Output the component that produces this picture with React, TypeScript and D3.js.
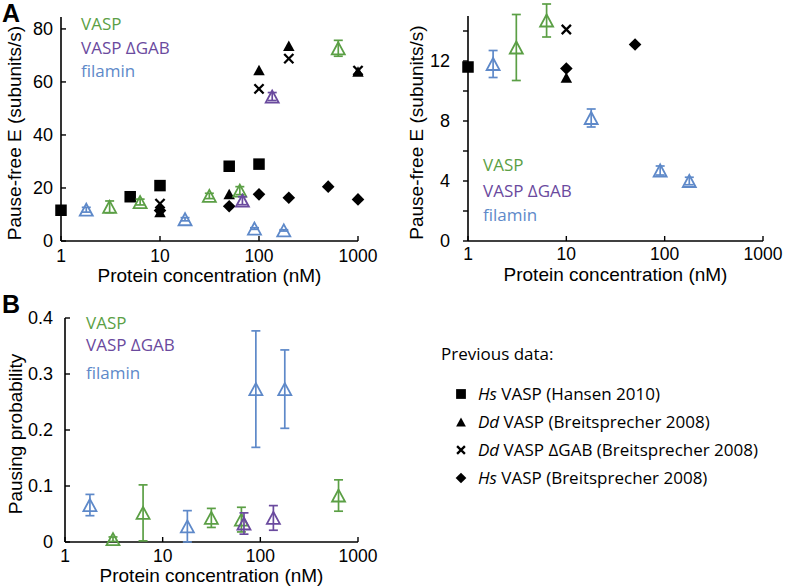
import React from "react";
import * as d3 from "d3";

const GREEN = "#5b9f45";
const PURPLE = "#6a4a9e";
const BLUE = "#5e89c9";
const BLACK = "#000000";

// ---------- Panel A: pause-free elongation rate (subunits/s) ----------
// Previous data (black symbols)
const hansenConc = [1, 5, 10, 50, 100];
const hansenRate = [11.6, 16.7, 20.9, 28.2, 29.0];
const ddConc = [10, 50, 100, 200, 1000];
const ddRate = [10.9, 17.7, 64.5, 73.7, 63.9];
const ddGabConc = [10, 100, 200, 1000];
const ddGabRate = [14.1, 57.4, 68.8, 64.3];
const hsBConc = [10, 50, 100, 200, 500, 1000];
const hsBRate = [11.5, 13.1, 17.6, 16.3, 20.5, 15.7];

// This study (open triangles with error bars)
const vaspConc = [3.1, 6.3, 31.5, 64, 632];
const vaspRate = [12.9, 14.7, 17.0, 19.0, 72.7];
const vaspRateErr = [2.2, 1.1, 1.0, 1.5, 3.0];
const gabConc = [68, 136];
const gabRate = [15.2, 54.5];
const gabRateErr = [1.5, 1.5];
const filConc = [1.8, 17.9, 90, 178];
const filRate = [11.8, 8.2, 4.7, 4.0];
const filRateErr = [0.9, 0.6, 0.3, 0.25];

// ---------- Panel B: pausing probability ----------
const vaspPause = [0.005, 0.052, 0.043, 0.040, 0.083];
const vaspPauseErr = [0.004, 0.05, 0.017, 0.022, 0.028];
const gabPause = [0.033, 0.043];
const gabPauseErr = [0.019, 0.022];
const filPause = [0.066, 0.028, 0.273, 0.273];
const filPauseErr = [0.019, 0.028, 0.104, 0.07];

const xTicks = [1, 10, 100, 1000];
const yTicksA = [0, 20, 40, 60, 80];
const yTicksAz = [0, 4, 8, 12];
const yMinorAz = [2, 6, 10, 14];
const yTicksB = [0, 0.1, 0.2, 0.3, 0.4];

const seriesNames = ["VASP", "VASP \u0394GAB", "filamin"];
const seriesColors = [GREEN, PURPLE, BLUE];

const legendItems = [
  { shape: "square", it: "Hs", rest: " VASP (Hansen 2010)" },
  { shape: "triangle", it: "Dd", rest: " VASP (Breitsprecher 2008)" },
  { shape: "x", it: "Dd", rest: " VASP \u0394GAB (Breitsprecher 2008)" },
  { shape: "diamond", it: "Hs", rest: " VASP (Breitsprecher 2008)" },
];

const AXFONT = "'Liberation Sans', Arial, Helvetica, sans-serif";
const LEGFONT = "'Open Sans', 'Noto Sans', sans-serif";

type Pt = { c: number; v: number; e?: number };
const zip = (c: number[], v: number[], e?: number[]): Pt[] =>
  c.map((ci, i) => ({ c: ci, v: v[i], e: e ? e[i] : undefined }));

function Marker({ shape, x, y, s = 1 }: { shape: string; x: number; y: number; s?: number }) {
  if (shape === "square") {
    const w = 11.5 * s;
    return <rect x={x - w / 2} y={y - w / 2} width={w} height={w} fill={BLACK} />;
  }
  if (shape === "triangle") {
    const w = 11.5 * s, h = 10.5 * s;
    return <path d={`M${x},${y - h / 2}L${x - w / 2},${y + h / 2}L${x + w / 2},${y + h / 2}Z`} fill={BLACK} />;
  }
  if (shape === "x") {
    const r = 4.6 * s;
    return (
      <path d={`M${x - r},${y - r}L${x + r},${y + r}M${x - r},${y + r}L${x + r},${y - r}`} stroke={BLACK} strokeWidth={2.3} />
    );
  }
  const r = 6.3 * s;
  return <path d={`M${x},${y - r}L${x + r},${y}L${x},${y + r}L${x - r},${y}Z`} fill={BLACK} />;
}

function OpenTri({ x, y, color }: { x: number; y: number; color: string }) {
  const w = 13, h = 12;
  return (
    <path
      d={`M${x},${y - h / 2}L${x - w / 2},${y + h / 2}L${x + w / 2},${y + h / 2}Z`}
      fill="none"
      stroke={color}
      strokeWidth={1.8}
      strokeLinejoin="miter"
    />
  );
}

function ErrBar({ x, y1, y2, color }: { x: number; y1: number; y2: number; color: string }) {
  const cw = 4.5;
  return (
    <g stroke={color} strokeWidth={1.7}>
      <line x1={x} x2={x} y1={y1} y2={y2} />
      <line x1={x - cw} x2={x + cw} y1={y1} y2={y1} />
      <line x1={x - cw} x2={x + cw} y1={y2} y2={y2} />
    </g>
  );
}

type PanelProps = {
  x: d3.ScaleLogarithmic<number, number>;
  y: d3.ScaleLinear<number, number>;
  yTicks: number[];
  yMinor?: number[];
  yFmt: (v: number) => string;
  yTickDir: number; // 1 inward, -1 outward
  yLabelGap: number;
  xLabelDy: number;
  yTitle: string;
  yTitleX: number;
  xTitleY: number;
  black: { shape: string; pts: Pt[] }[];
  ours: { color: string; pts: Pt[] }[];
  maxV: number;
  legendX: number;
  legendYs: number[];
};

function Panel(p: PanelProps) {
  const [x0, x1] = p.x.range();
  const [y0, y1] = p.y.range();
  const tl = 5;
  const inRange = (pt: Pt) => pt.v <= p.maxV;
  return (
    <g>
      {/* axes */}
      <line x1={x0} x2={x0} y1={y0} y2={y1} stroke={BLACK} strokeWidth={1.6} />
      <line x1={x0} x2={x1} y1={y0} y2={y0} stroke={BLACK} strokeWidth={1.6} />
      {p.yTicks.map((t) => (
        <g key={"yt" + t}>
          <line x1={x0} x2={x0 + p.yTickDir * tl} y1={p.y(t)} y2={p.y(t)} stroke={BLACK} strokeWidth={1.4} />
          <text
            x={x0 - p.yLabelGap}
            y={p.y(t)}
            dy="0.36em"
            textAnchor="end"
            fontFamily={AXFONT}
            fontSize={18}
          >
            {p.yFmt(t)}
          </text>
        </g>
      ))}
      {(p.yMinor || []).map((t) => (
        <line key={"ym" + t} x1={x0} x2={x0 + p.yTickDir * tl} y1={p.y(t)} y2={p.y(t)} stroke={BLACK} strokeWidth={1.4} />
      ))}
      {xTicks.map((t) => (
        <g key={"xt" + t}>
          <line x1={p.x(t)} x2={p.x(t)} y1={y0} y2={y0 - tl} stroke={BLACK} strokeWidth={1.4} />
          <text x={p.x(t)} y={y0 + p.xLabelDy} textAnchor="middle" fontFamily={AXFONT} fontSize={17.5}>
            {t}
          </text>
        </g>
      ))}
      <text
        x={(x0 + x1) / 2}
        y={p.xTitleY}
        textAnchor="middle"
        fontFamily={AXFONT}
        fontSize={19}
      >
        Protein concentration (nM)
      </text>
      <text
        transform={`translate(${p.yTitleX},${(y0 + y1) / 2 + 4}) rotate(-90)`}
        textAnchor="middle"
        fontFamily={AXFONT}
        fontSize={19}
      >
        {p.yTitle}
      </text>

      {/* series legend */}
      {seriesNames.map((n, i) => (
        <text key={n} x={p.legendX} y={p.legendYs[i]} fill={seriesColors[i]} fontFamily={LEGFONT} fontSize={17}>
          {n}
        </text>
      ))}

      {/* previous data */}
      {p.black.map((s) =>
        s.pts.filter(inRange).map((pt, i) => (
          <Marker key={s.shape + i} shape={s.shape} x={p.x(pt.c)} y={p.y(pt.v)} />
        ))
      )}

      {/* this study */}
      {p.ours.map((s, si) =>
        s.pts.filter(inRange).map((pt, i) => (
          <g key={si + "-" + i}>
            <ErrBar x={p.x(pt.c)} y1={p.y(pt.v - (pt.e || 0))} y2={p.y(pt.v + (pt.e || 0))} color={s.color} />
            <OpenTri x={p.x(pt.c)} y={p.y(pt.v)} color={s.color} />
          </g>
        ))
      )}
    </g>
  );
}

export default function App() {
  const xA = d3.scaleLog().domain([1, 1000]).range([61, 358]);
  const yA = d3.scaleLinear().domain([0, 84.5]).range([241, 17]);
  const xAz = d3.scaleLog().domain([1, 1000]).range([468, 763]);
  const yAz = d3.scaleLinear().domain([0, 15]).range([241, 16]);
  const xB = d3.scaleLog().domain([1, 1000]).range([65, 358]);
  const yB = d3.scaleLinear().domain([0, 0.4]).range([542, 318]);

  const blackA = [
    { shape: "square", pts: zip(hansenConc, hansenRate) },
    { shape: "triangle", pts: zip(ddConc, ddRate) },
    { shape: "x", pts: zip(ddGabConc, ddGabRate) },
    { shape: "diamond", pts: zip(hsBConc, hsBRate) },
  ];
  const oursA = [
    { color: GREEN, pts: zip(vaspConc, vaspRate, vaspRateErr) },
    { color: PURPLE, pts: zip(gabConc, gabRate, gabRateErr) },
    { color: BLUE, pts: zip(filConc, filRate, filRateErr) },
  ];
  const oursB = [
    { color: GREEN, pts: zip(vaspConc, vaspPause, vaspPauseErr) },
    { color: PURPLE, pts: zip(gabConc, gabPause, gabPauseErr) },
    { color: BLUE, pts: zip(filConc, filPause, filPauseErr) },
  ];

  return (
    <svg
      width={785}
      height={587}
      style={{ position: "absolute", left: 0, top: 0, background: "#fff" }}
    >
      <rect width={785} height={587} fill="#fff" />
      <text x={2} y={22} fontFamily={AXFONT} fontWeight="bold" fontSize={25}>A</text>
      <text x={2} y={313} fontFamily={AXFONT} fontWeight="bold" fontSize={25}>B</text>

      <Panel
        x={xA}
        y={yA}
        yTicks={yTicksA}
        yFmt={(v) => String(v)}
        yTickDir={1}
        yLabelGap={8}
        xLabelDy={21}
        yTitle="Pause-free E (subunits/s)"
        yTitleX={21}
        xTitleY={282}
        black={blackA}
        ours={oursA}
        maxV={1e9}
        legendX={81}
        legendYs={[30, 54, 77]}
      />
      <Panel
        x={xAz}
        y={yAz}
        yTicks={yTicksAz}
        yMinor={yMinorAz}
        yFmt={(v) => String(v)}
        yTickDir={-1}
        yLabelGap={18}
        xLabelDy={19}
        yTitle="Pause-free E (subunits/s)"
        yTitleX={423}
        xTitleY={281}
        black={blackA}
        ours={oursA}
        maxV={15}
        legendX={483}
        legendYs={[171, 197, 221]}
      />
      <Panel
        x={xB}
        y={yB}
        yTicks={yTicksB}
        yFmt={(v) => (v === 0 ? "0" : d3.format(".1f")(v))}
        yTickDir={1}
        yLabelGap={12}
        xLabelDy={20}
        yTitle="Pausing probability"
        yTitleX={22}
        xTitleY={582}
        black={[]}
        ours={oursB}
        maxV={1e9}
        legendX={86}
        legendYs={[329, 351, 379]}
      />

      {/* previous data legend */}
      <text x={441} y={360} fontFamily={LEGFONT} fontSize={17}>Previous data:</text>
      {legendItems.map((it, i) => {
        const cy = 394 + i * 28;
        return (
          <g key={i}>
            <Marker shape={it.shape} x={461} y={cy} s={0.85} />
            <text x={478} y={cy + 6} fontFamily={LEGFONT} fontSize={17}>
              <tspan fontStyle="italic">{it.it}</tspan>
              {it.rest}
            </text>
          </g>
        );
      })}
    </svg>
  );
}
